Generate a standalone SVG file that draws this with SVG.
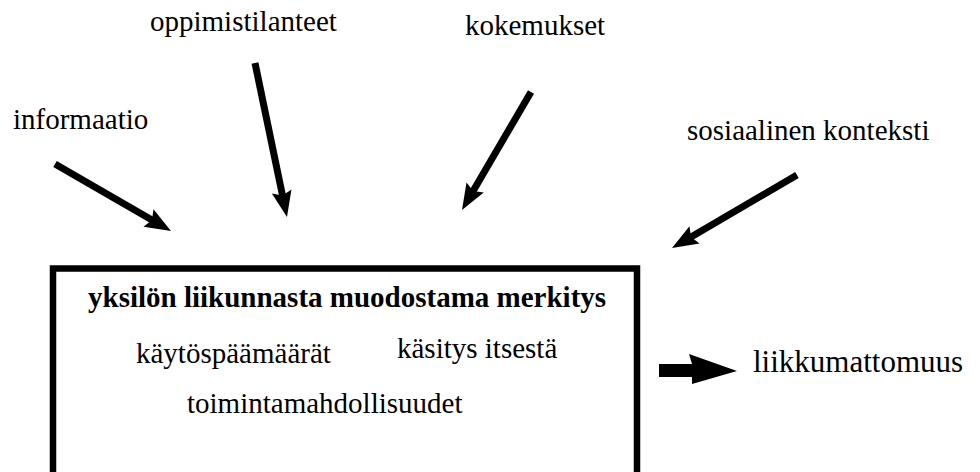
<svg xmlns="http://www.w3.org/2000/svg" width="980" height="472" viewBox="0 0 980 472">
  <style>
    .lbl { font-family: "Liberation Serif", "Times New Roman", serif; font-size: 29px; fill: #000; }
    .ttl { font-family: "Liberation Serif", "Times New Roman", serif; font-size: 29px; font-weight: bold; fill: #000; }
    .big { font-size: 31px; }
    .shaft { stroke: #000; stroke-width: 7; fill: none; marker-end: url(#head); }
    .box { fill: none; stroke: #000; stroke-width: 6.5; }
  </style>
  <defs>
    <marker id="head" markerUnits="userSpaceOnUse" viewBox="-10 -12 34 24" markerWidth="34" markerHeight="24" refX="0" refY="0" orient="auto">
      <path d="M20,0 L-6,-10 L-2,0 L-6,10 Z" fill="#000"/>
    </marker>
  </defs>
  <rect width="980" height="472" fill="#fff"/>

  <g id="informaatio"><text class="lbl" x="13" y="129">informaatio</text></g>
  <g id="oppimistilanteet"><text class="lbl" x="150" y="31">oppimistilanteet</text></g>
  <g id="kokemukset"><text class="lbl" x="465" y="35">kokemukset</text></g>
  <g id="sosiaalinen-konteksti"><text class="lbl" x="687" y="140">sosiaalinen konteksti</text></g>

  <g id="merkitys">
    <rect class="box" x="53" y="268.5" width="584" height="300"/>
    <text class="ttl" x="88" y="307">yksilön liikunnasta muodostama merkitys</text>
    <text class="lbl" x="136" y="363">käytöspäämäärät</text>
    <text class="lbl" x="397" y="358">käsitys itsestä</text>
    <text class="lbl" x="187" y="413">toimintamahdollisuudet</text>
  </g>

  <g id="liikkumattomuus"><text class="lbl big" x="753" y="372">liikkumattomuus</text></g>

  <g id="connectors">
    <line class="shaft" x1="55" y1="164" x2="153.7" y2="221"/>
    <line class="shaft" x1="255" y1="63" x2="282.9" y2="197.4"/>
    <line class="shaft" x1="531" y1="92" x2="472.1" y2="192.7"/>
    <line class="shaft" x1="797" y1="175" x2="689.3" y2="237.9"/>
    <polygon points="659,364 692,364 689,354 737,371 692,384 692,377 659,377" fill="#000"/>
  </g>
</svg>
